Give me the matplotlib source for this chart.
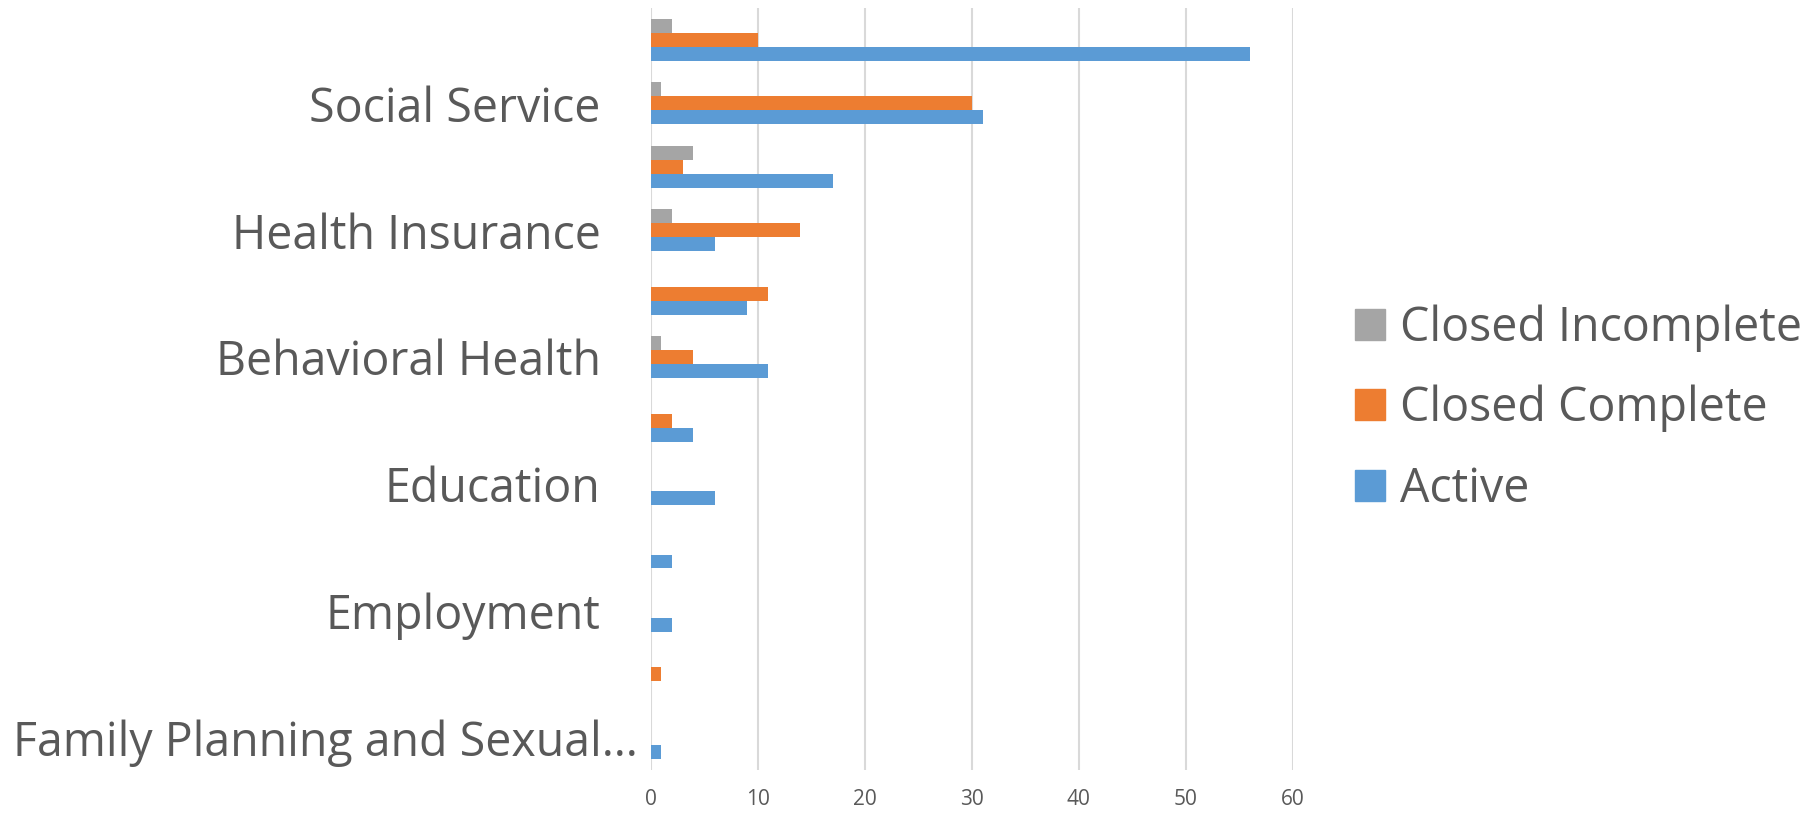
import matplotlib
matplotlib.use("Agg")
import matplotlib.pyplot as plt
import matplotlib.transforms as mtransforms
from matplotlib.patches import Patch
import numpy as np

# Data (bottom to top)
categories = ["Family Planning and Sexual\u2026", "", "Employment", "", "Education", "",
              "Behavioral Health", "", "Health Insurance", "", "Social Service", ""]
active = [1, 0, 2, 2, 6, 4, 11, 9, 6, 17, 31, 56]
closed_complete = [0, 1, 0, 0, 0, 2, 4, 11, 14, 3, 30, 10]
closed_incomplete = [0, 0, 0, 0, 0, 0, 1, 0, 2, 4, 1, 2]
series_names = ["Active", "Closed Complete", "Closed Incomplete"]
colors = ["#5B9BD5", "#ED7D31", "#A5A5A5"]
xticks = [0, 10, 20, 30, 40, 50, 60]

plt.rcParams['font.family'] = ['Open Sans', 'DejaVu Sans']
text_color = "#595959"

fig = plt.figure(figsize=(18.12, 8.14), dpi=100)
W, H = 1812, 814
left, right = 650.6 / W, 1293 / W
top_px, bot_px = 8.2, 769.6
ax = fig.add_axes([left, 1 - bot_px / H, right - left, (bot_px - top_px) / H])

y = np.arange(len(categories))
h = 0.22
for vals, off, col in zip([active, closed_complete, closed_incomplete], [-h, 0, h], colors):
    ax.barh(y + off, vals, height=h, color=col, zorder=3)

ax.set_xlim(0, 60)
ax.set_ylim(-0.5, len(categories) - 0.5)
ax.set_xticks(xticks)
ax.set_xticklabels([str(t) for t in xticks])
ax.set_yticks(y)
ax.set_yticklabels(categories)
for s in ax.spines.values():
    s.set_visible(False)
ax.grid(axis='x', color="#D9D9D9", linewidth=1.5, zorder=0)
ax.tick_params(axis='x', length=0, pad=14, labelsize=15, labelcolor=text_color)
ax.tick_params(axis='y', length=0, pad=36, labelsize=33.5, labelcolor=text_color)

# shift the long truncated label to the right as in the reference
for lbl in ax.get_yticklabels():
    if lbl.get_text().startswith("Family"):
        lbl.set_transform(lbl.get_transform() + mtransforms.ScaledTranslation(37 / 100, 0, fig.dpi_scale_trans))

handles = [Patch(color=colors[2]), Patch(color=colors[1]), Patch(color=colors[0])]
labels = [series_names[2], series_names[1], series_names[0]]
fig.legend(handles, labels, loc='center left', bbox_to_anchor=(1355 / W, 1 - 408.5 / H),
           frameon=False, fontsize=33.5, labelcolor=text_color, borderpad=0, borderaxespad=0,
           handlelength=0.645, handleheight=0.645, handletextpad=0.32, labelspacing=0.71)

fig.savefig("out.png", dpi=100, facecolor="white")
